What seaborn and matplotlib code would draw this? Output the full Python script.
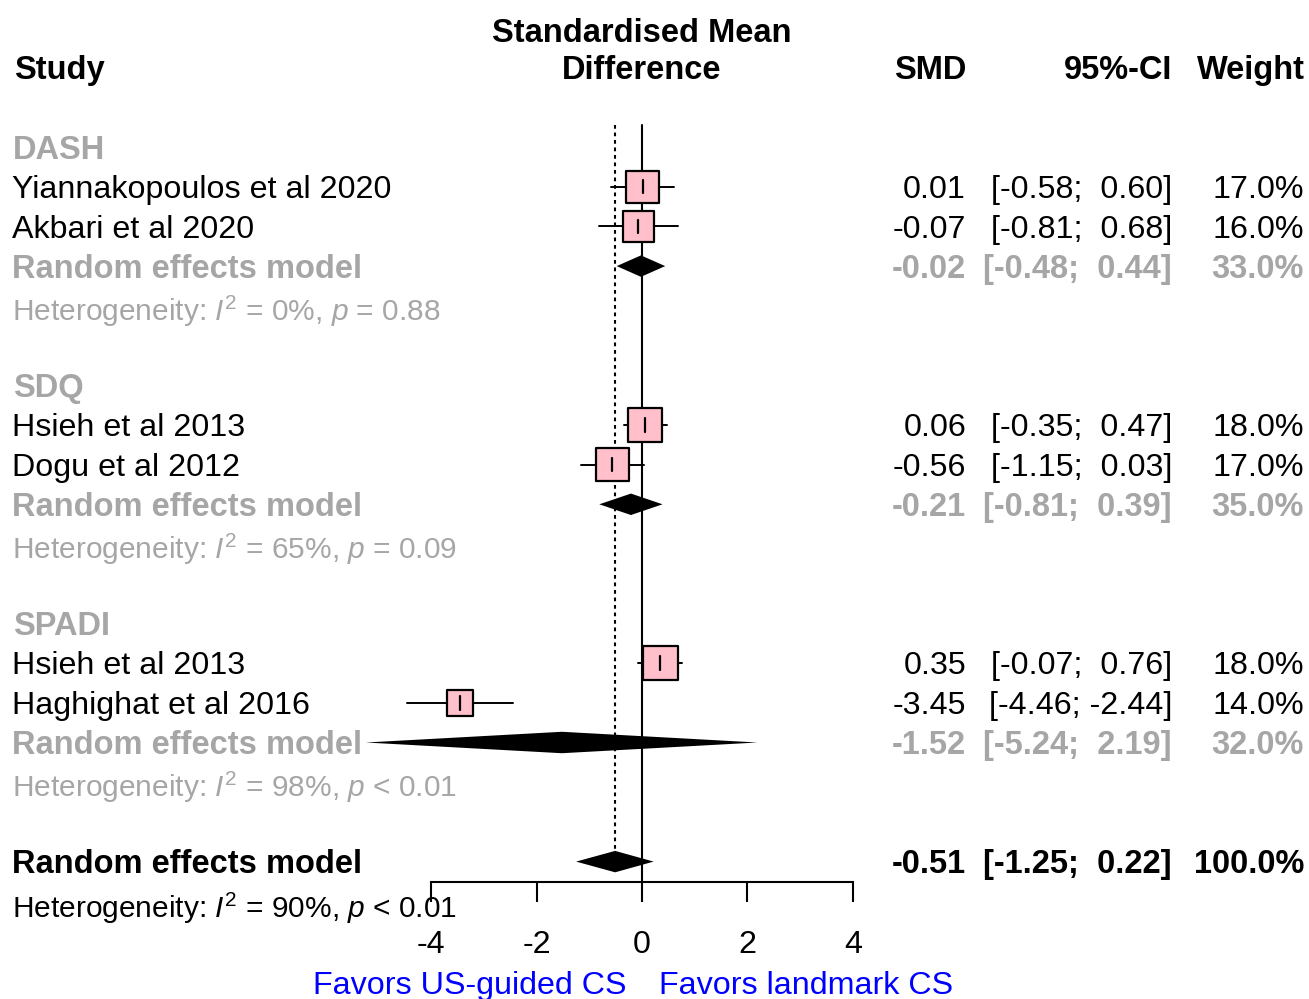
import matplotlib
matplotlib.use("Agg")
import matplotlib.pyplot as plt
import seaborn as sns
import pandas as pd
import numpy as np

# ---------------- data ----------------
studies = ["Yiannakopoulos et al 2020", "Akbari et al 2020",
           "Hsieh et al 2013", "Dogu et al 2012",
           "Hsieh et al 2013", "Haghighat et al 2016"]
groups = ["DASH", "DASH", "SDQ", "SDQ", "SPADI", "SPADI"]
smd = [0.01, -0.07, 0.06, -0.56, 0.35, -3.45]
ci_low = [-0.58, -0.81, -0.35, -1.15, -0.07, -4.46]
ci_high = [0.60, 0.68, 0.47, 0.03, 0.76, -2.44]
weight = [17.0, 16.0, 18.0, 17.0, 18.0, 14.0]

subgroups = ["DASH", "SDQ", "SPADI"]
sub_smd = [-0.02, -0.21, -1.52]
sub_low = [-0.48, -0.81, -5.24]
sub_high = [0.44, 0.39, 2.19]
sub_weight = [33.0, 35.0, 32.0]
sub_i2 = [0, 65, 98]
sub_p = ["= 0.88", "= 0.09", "< 0.01"]

overall_smd = -0.51
overall_low = -1.25
overall_high = 0.22
overall_weight = 100.0
overall_i2 = 90
overall_p = "< 0.01"

xticks = [-4, -2, 0, 2, 4]
left_label = "Favors US-guided CS"
right_label = "Favors landmark CS"

# ---------------- style ----------------
sns.set_theme(style="white")
plt.rcParams['font.family'] = ['Liberation Sans', 'DejaVu Sans']
plt.rcParams['text.color'] = 'black'
plt.rcParams['xtick.color'] = 'black'
plt.rcParams['mathtext.fontset'] = 'custom'
plt.rcParams['mathtext.rm'] = 'Liberation Sans'
plt.rcParams['mathtext.it'] = 'Liberation Sans:italic'
plt.rcParams['mathtext.bf'] = 'Liberation Sans:bold'

GRAY = "#A6A6A6"
PINK = "#FFC0CB"
FS = 23.2
FS_B = 23.5
FS_HET = 21.5
DY = 0.08   # small text baseline adjustment (rows)

W, H = 1309, 999
fig = plt.figure(figsize=(W / 100, H / 100), dpi=100)
ax = fig.add_axes([0, 0, 1, 1])

PX = 52.7   # pixels per SMD unit
X0 = 642    # pixel of SMD = 0
Y0 = 147    # pixel of row 0
RY = 39.7   # pixels per row
ax.set_xlim(-X0 / PX, (W - X0) / PX)
ax.set_ylim((H - Y0) / RY, -Y0 / RY)

def px2x(p):
    return (p - X0) / PX

X_STUDY = px2x(12)
X_SMD = px2x(966)
X_CI = px2x(1172)
X_W = px2x(1304)

# build table of study rows
study_rows = []
for gi, g in enumerate(subgroups):
    base = 6 * gi
    idx = [i for i, gg in enumerate(groups) if gg == g]
    for k, i in enumerate(idx):
        study_rows.append(base + 1 + k)
df = pd.DataFrame({"study": studies, "group": groups, "smd": smd,
                   "lo": ci_low, "hi": ci_high, "weight": weight,
                   "row": study_rows})

AXIS_ROW = (882 - Y0) / RY

# reference lines
ax.plot([0, 0], [-0.55, AXIS_ROW], color="black", lw=1.5, zorder=1)
ax.plot([overall_smd, overall_smd], [-0.55, 18.3], color="black", lw=1.5,
        ls=(0, (1.8, 1.8)), zorder=1)

# CI whiskers
for _, r in df.iterrows():
    ax.plot([r.lo, r.hi], [r.row, r.row], color="black", lw=1.4, zorder=2)

# squares via seaborn
sizes = {w: (1.9 * w * 0.72) ** 2 for w in sorted(set(weight))}
sns.scatterplot(data=df, x="smd", y="row", size="weight", sizes=sizes,
                marker="s", color=PINK, edgecolor="black", linewidth=1.6,
                legend=False, ax=ax, zorder=3)
for _, r in df.iterrows():
    ax.plot([r.smd, r.smd], [r.row - 0.17, r.row + 0.17], color="black",
            lw=1.6, zorder=4)

def diamond(est, lo, hi, row, h=0.27):
    ax.fill([lo, est, hi, est, lo], [row, row - h, row, row + h, row],
            color="black", lw=0, zorder=3)

def fmt(v):
    return f"{v:.2f}"

def ci_txt(lo, hi):
    a = fmt(lo)
    b = fmt(hi)
    if hi >= 0:
        b = "  " + b
    else:
        b = " " + b
    return f"[{a};{b}]"

def txt(x, y, s, **kw):
    ax.text(x, y + DY, s, va="center", **kw)

# header
txt(px2x(14), -2.0, "Study", ha="left", fontsize=FS_B, fontweight="bold")
txt(0, -2.95, "Standardised Mean", ha="center", fontsize=FS_B,
    fontweight="bold")
txt(0, -2.0, "Difference", ha="center", fontsize=FS_B, fontweight="bold")
txt(X_SMD, -2.0, "SMD", ha="right", fontsize=FS_B, fontweight="bold")
txt(X_CI, -2.0, "95%-CI", ha="right", fontsize=FS_B, fontweight="bold")
txt(px2x(1305), -2.0, "Weight", ha="right", fontsize=FS_B, fontweight="bold")

def het_txt(i2, p):
    return (r"Heterogeneity: $\mathit{I}^{2}$ = " + f"{i2}%, "
            + r"$\mathit{p}$ " + p)

# subgroup blocks
for gi, g in enumerate(subgroups):
    base = 6 * gi
    txt(px2x(13), base, g, ha="left", fontsize=FS_B, fontweight="bold",
        color=GRAY)
    sub = df[df.group == g]
    for _, r in sub.iterrows():
        txt(X_STUDY, r.row, r.study, ha="left", fontsize=FS)
        txt(X_SMD, r.row, fmt(r.smd), ha="right", fontsize=FS)
        txt(X_CI, r.row, ci_txt(r.lo, r.hi), ha="right", fontsize=FS)
        txt(X_W, r.row, f"{r.weight:.1f}%", ha="right", fontsize=FS)
    rr = base + 3
    txt(X_STUDY, rr, "Random effects model", ha="left", fontsize=FS_B,
        fontweight="bold", color=GRAY)
    txt(X_SMD, rr, fmt(sub_smd[gi]), ha="right", fontsize=FS_B,
        fontweight="bold", color=GRAY)
    txt(X_CI, rr, ci_txt(sub_low[gi], sub_high[gi]), ha="right",
        fontsize=FS_B, fontweight="bold", color=GRAY)
    txt(X_W, rr, f"{sub_weight[gi]:.1f}%", ha="right", fontsize=FS_B,
        fontweight="bold", color=GRAY)
    diamond(sub_smd[gi], sub_low[gi], sub_high[gi], rr)
    txt(X_STUDY, base + 4.05, het_txt(sub_i2[gi], sub_p[gi]), ha="left",
        fontsize=FS_HET, color=GRAY)

# overall
txt(X_STUDY, 18, "Random effects model", ha="left", fontsize=FS_B,
    fontweight="bold")
txt(X_SMD, 18, fmt(overall_smd), ha="right", fontsize=FS_B,
    fontweight="bold")
txt(X_CI, 18, ci_txt(overall_low, overall_high), ha="right", fontsize=FS_B,
    fontweight="bold")
txt(X_W, 18, f"{overall_weight:.1f}%", ha="right", fontsize=FS_B,
    fontweight="bold")
diamond(overall_smd, overall_low, overall_high, 18)
txt(X_STUDY, 19.1, het_txt(overall_i2, overall_p), ha="left",
    fontsize=FS_HET)

# x axis
for s in ["top", "left", "right"]:
    ax.spines[s].set_visible(False)
ax.spines["bottom"].set_position(("data", AXIS_ROW))
ax.spines["bottom"].set_bounds(xticks[0], xticks[-1])
ax.spines["bottom"].set_linewidth(1.5)
ax.spines["bottom"].set_color("black")
ax.set_xticks(xticks)
ax.set_xticklabels([str(t) for t in xticks])
ax.set_yticks([])
ax.tick_params(axis="x", direction="out", length=14.5, width=1.5,
               labelsize=FS, pad=20, colors="black", bottom=True)
ax.set_xlabel("")
ax.set_ylabel("")

txt(px2x(626), 21.06, left_label, ha="right", fontsize=FS, color="#0000FF")
txt(px2x(659), 21.06, right_label, ha="left", fontsize=FS, color="#0000FF")

fig.savefig("out.png", dpi=100)
